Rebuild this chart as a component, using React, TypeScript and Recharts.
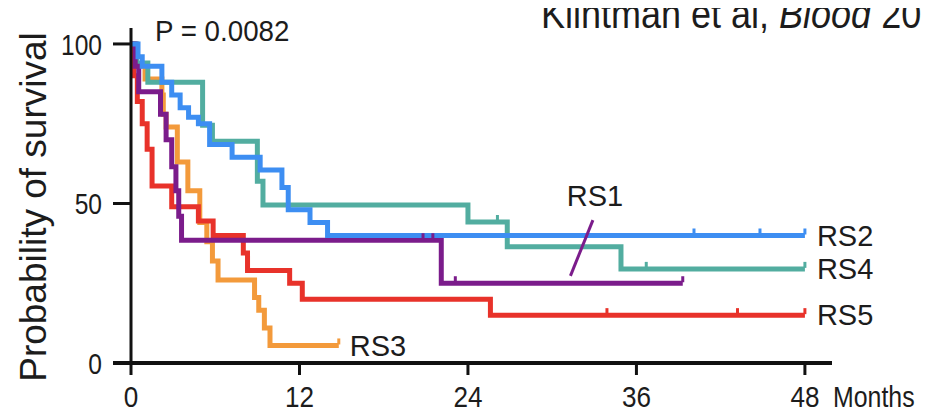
import React from 'react';
import { LineChart, Line, XAxis, YAxis, ReferenceLine, ReferenceDot } from 'recharts';

const FONT = "'Liberation Sans', Arial, Helvetica, sans-serif";
const TEXT = '#1c1c1c';
const AXIS = '#111111';

const xTicks = [0, 12, 24, 36, 48];
const yTicks = [0, 50, 100];

// RS1 (purple)
const rs1Months = [0, 0.3, 0.55, 2.1, 2.5, 2.9, 3.2, 3.4, 3.6, 22.1, 39.3];
const rs1Surv = [100, 93, 85, 78, 70, 61.5, 54, 46, 38.5, 25, 25];
const rs1Censor = [20.8, 21.5, 23.1, 39.3];

// RS2 (blue)
const rs2Months = [0, 0.5, 0.8, 2.2, 2.9, 3.5, 4.1, 4.8, 5.6, 7.2, 9.2, 10.75, 11.2, 12.75, 14.0, 48];
const rs2Surv = [100, 96, 93, 88, 84, 80, 77, 75, 68.5, 64.5, 60.5, 55, 48, 44, 40, 40];
const rs2Censor = [40.1, 44.8, 48];

// RS3 (orange)
const rs3Months = [0, 0.1, 1.0, 2.2, 2.3, 2.5, 3.3, 4.05, 4.9, 5.4, 5.8, 6.2, 8.8, 9.1, 9.5, 9.9, 14.8];
const rs3Surv = [100, 93, 89, 84, 78, 74, 63, 54, 44, 38, 32, 26, 20.5, 16.5, 11, 5.5, 5.5];
const rs3Censor = [14.8];

// RS4 (teal)
const rs4Months = [0, 0.4, 1.2, 5.1, 5.8, 9.0, 9.4, 24.0, 26.8, 34.9, 48];
const rs4Surv = [100, 94, 88, 74.5, 69.5, 57, 49.5, 44.2, 36.4, 29.5, 29.5];
const rs4Censor = [26.1, 36.7, 48];

// RS5 (red)
const rs5Months = [0, 0.2, 0.45, 0.8, 1.15, 1.5, 2.9, 4.8, 5.85, 8.0, 8.3, 11.3, 12.2, 25.6, 48];
const rs5Surv = [100, 90, 82, 75, 67, 55.5, 49, 44.5, 40, 34.5, 29, 25, 20, 15, 15];
const rs5Censor = [33.9, 43.2, 48];

const C_RS1 = '#7b1c8b';
const C_RS2 = '#3d8ef2';
const C_RS3 = '#f39a3b';
const C_RS4 = '#52ada0';
const C_RS5 = '#e8322a';

type Pt = { m: number; s: number; c: boolean };

function buildSeries(months: number[], surv: number[], censor: number[]): Pt[] {
  const pts: Pt[] = months.map((m, i) => ({ m, s: surv[i], c: false }));
  censor.forEach((t) => {
    let s = surv[0];
    for (let i = 0; i < months.length; i++) if (months[i] <= t) s = surv[i];
    pts.push({ m: t, s, c: true });
  });
  pts.sort((a, b) => a.m - b.m || (a.c ? 1 : 0) - (b.c ? 1 : 0));
  return pts;
}

const rs1Data = buildSeries(rs1Months, rs1Surv, rs1Censor);
const rs2Data = buildSeries(rs2Months, rs2Surv, rs2Censor);
const rs3Data = buildSeries(rs3Months, rs3Surv, rs3Censor);
const rs4Data = buildSeries(rs4Months, rs4Surv, rs4Censor);
const rs5Data = buildSeries(rs5Months, rs5Surv, rs5Censor);

const censorDot = (color: string) => (props: any) => {
  const { cx, cy, payload, index } = props;
  if (!payload || !payload.c || cx == null || cy == null) return <g key={`d${index}`} />;
  return (
    <line key={`d${index}`} x1={cx} x2={cx} y1={cy - 1} y2={cy - 7} stroke={color} strokeWidth={3} />
  );
};

const XTick = (props: any) => {
  const { x, y, payload } = props;
  return (
    <g transform={`translate(${x},${y})`}>
      <text transform="scale(0.87,1)" textAnchor="middle" dy="0.71em" fontSize={30} fontFamily={FONT} fill={TEXT}>
        {payload.value}
      </text>
    </g>
  );
};

const YTick = (props: any) => {
  const { x, y, payload } = props;
  return (
    <g transform={`translate(${x},${y})`}>
      <text transform="scale(0.82,1)" textAnchor="end" dy="0.355em" fontSize={30} fontFamily={FONT} fill={TEXT}>
        {payload.value}
      </text>
    </g>
  );
};

const last = (a: number[]) => a[a.length - 1];

const labelStyle = (value: string) => ({
  value,
  position: 'right' as const,
  offset: 12,
  fontSize: 29,
  fontFamily: FONT,
  fill: TEXT,
});

export default function App() {
  return (
    <div style={{ position: 'relative', margin: -8, width: 935, height: 416, background: '#fff' }}>
      <LineChart width={935} height={416} margin={{ top: 28, right: 103, bottom: 0, left: 0 }}>
        <XAxis
          dataKey="m"
          type="number"
          domain={[0, 49.93]}
          ticks={xTicks}
          allowDataOverflow
          height={53}
          tickSize={12}
          tickMargin={11}
          axisLine={{ stroke: AXIS, strokeWidth: 4 }}
          tickLine={{ stroke: AXIS, strokeWidth: 3 }}
          tick={XTick}
        />
        <YAxis
          type="number"
          domain={[0, 105]}
          ticks={yTicks}
          width={131}
          tickSize={18}
          tickMargin={11}
          axisLine={{ stroke: AXIS, strokeWidth: 3 }}
          tickLine={{ stroke: AXIS, strokeWidth: 3 }}
          tick={YTick}
        />
        <ReferenceLine
          segment={[{ x: -1.28, y: 0 }, { x: 0, y: 0 }]}
          stroke={AXIS}
          strokeWidth={4}
          ifOverflow="visible"
        />
        <Line data={rs3Data} dataKey="s" type="stepAfter" stroke={C_RS3} strokeWidth={5} dot={censorDot(C_RS3)} activeDot={false} isAnimationActive={false} />
        <Line data={rs5Data} dataKey="s" type="stepAfter" stroke={C_RS5} strokeWidth={5} dot={censorDot(C_RS5)} activeDot={false} isAnimationActive={false} />
        <Line data={rs4Data} dataKey="s" type="stepAfter" stroke={C_RS4} strokeWidth={5} dot={censorDot(C_RS4)} activeDot={false} isAnimationActive={false} />
        <Line data={rs1Data} dataKey="s" type="stepAfter" stroke={C_RS1} strokeWidth={5} dot={censorDot(C_RS1)} activeDot={false} isAnimationActive={false} />
        <Line data={rs2Data} dataKey="s" type="stepAfter" stroke={C_RS2} strokeWidth={5} dot={censorDot(C_RS2)} activeDot={false} isAnimationActive={false} />
        <ReferenceLine
          segment={[{ x: 31.3, y: 27.3 }, { x: 32.9, y: 44.8 }]}
          stroke={C_RS1}
          strokeWidth={3}
        />
        <ReferenceDot x={33.05} y={52.3} r={0} fill="none" stroke="none"
          label={{ value: 'RS1', position: 'center', fontSize: 29, fontFamily: FONT, fill: TEXT }} />
        <ReferenceDot x={last(rs2Months)} y={last(rs2Surv)} r={0} fill="none" stroke="none" label={labelStyle('RS2')} />
        <ReferenceDot x={last(rs4Months)} y={last(rs4Surv)} r={0} fill="none" stroke="none" label={labelStyle('RS4')} />
        <ReferenceDot x={last(rs5Months)} y={last(rs5Surv)} r={0} fill="none" stroke="none" label={labelStyle('RS5')} />
        <ReferenceDot x={last(rs3Months)} y={last(rs3Surv)} r={0} fill="none" stroke="none" label={{ ...labelStyle('RS3'), offset: 11 }} />
      </LineChart>
      <svg width={935} height={416} style={{ position: 'absolute', left: 0, top: 0, pointerEvents: 'none' }}>
        <g transform="translate(541,28) scale(0.9,1)">
          <text x={0} y={0} fontSize={40} fontFamily={FONT} fill={TEXT}>
            Klintman et al, <tspan fontStyle="italic">Blood</tspan> 20
          </text>
        </g>
        <g transform="translate(155,41) scale(0.925,1)">
          <text x={0} y={0} fontSize={30} fontFamily={FONT} fill={TEXT}>P = 0.0082</text>
        </g>
        <g transform="translate(833,407) scale(0.83,1)">
          <text x={0} y={0} fontSize={30} fontFamily={FONT} fill={TEXT}>Months</text>
        </g>
        <g transform="translate(46,207) rotate(-90)">
          <text x={0} y={0} textAnchor="middle" fontSize={37} fontFamily={FONT} fill={TEXT}>Probability of survival</text>
        </g>
      </svg>
    </div>
  );
}
